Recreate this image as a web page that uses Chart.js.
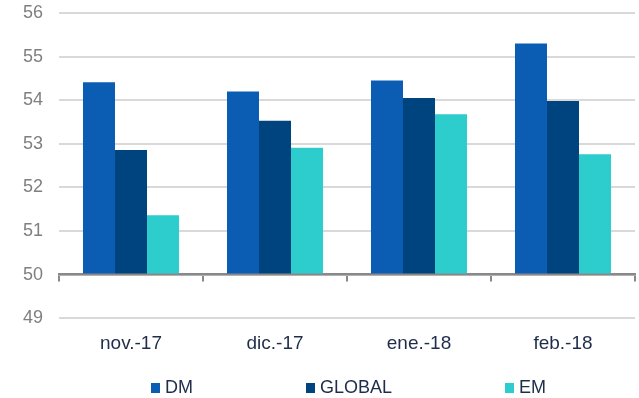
<!DOCTYPE html>
<html>
<head>
<meta charset="utf-8">
<script src="https://cdn.jsdelivr.net/npm/chart.js@4.4.1/dist/chart.umd.min.js"></script>
<style>
  html, body { margin: 0; padding: 0; background: #fff; }
  #wrap { position: relative; width: 639px; height: 398px; }
  #legend {
    position: absolute; left: 151px; top: 377px;
    display: flex; align-items: center;
    font: 18px "Liberation Sans", Arial, sans-serif; color: #1f2d4a;
  }
  #legend .item { display: flex; align-items: center; margin-right: 113px; }
  #legend .box { width: 9px; height: 10px; margin-right: 5px; }
</style>
</head>
<body>
<div id="wrap">
  <canvas id="pmiChart"></canvas>
  <div id="legend"></div>
</div>
<script>
const months = ['nov.-17', 'dic.-17', 'ene.-18', 'feb.-18'];
const dmValues = [54.41, 54.20, 54.45, 55.30];
const globalValues = [52.86, 53.53, 54.05, 53.98];
const emValues = [51.36, 52.91, 53.68, 52.76];
const yMin = 49;
const yMax = 56;
const baseLine = 50;

const fontFamily = '"Liberation Sans", Arial, sans-serif';

const chart = new Chart(document.getElementById('pmiChart'), {
	type: 'bar',
	data: {
		labels: months,
		datasets: [
			{ label: 'DM', data: dmValues, backgroundColor: '#0b5db4', base: baseLine },
			{ label: 'GLOBAL', data: globalValues, backgroundColor: '#00447f', base: baseLine },
			{ label: 'EM', data: emValues, backgroundColor: '#2ecdcd', base: baseLine }
		]
	},
	options: {
		responsive: true,
		maintainAspectRatio: false,
		animation: false,
		datasets: {
			bar: { categoryPercentage: 0.667, barPercentage: 1.0 }
		},
		layout: { padding: { top: 13, right: 4, left: 7, bottom: 29 } },
		plugins: {
			legend: { display: false },
			tooltip: { enabled: false }
		},
		scales: {
			x: {
				grid: { display: false, drawTicks: false },
				border: { display: false },
				ticks: {
					color: '#1f2d4a',
					padding: 14,
					font: { family: fontFamily, size: 19 }
				}
			},
			// axis line at 50 with tick marks between the months
			xBase: {
				type: 'category',
				position: { y: baseLine },
				z: 1,
				grid: { drawOnChartArea: false, offset: true, tickLength: 6, color: '#898989', lineWidth: 2 },
				border: { color: '#898989', width: 2.5 },
				ticks: { display: false }
			},
			y: {
				min: yMin,
				max: yMax,
				border: { display: false },
				grid: { color: '#d9d9d9', lineWidth: 2, drawTicks: false },
				ticks: {
					stepSize: 1,
					color: '#7f7f7f',
					padding: 16,
					font: { family: fontFamily, size: 18 }
				},
				// the tick padding is only wanted sideways, not above the top label
				afterFit: function (scale) {
					scale.paddingTop = 11;
					scale.paddingBottom = 11;
				}
			}
		}
	}
});

// legend drawn as html under the chart
const legendEl = document.getElementById('legend');
chart.data.datasets.forEach(function (ds) {
	const item = document.createElement('div');
	item.className = 'item';
	const box = document.createElement('span');
	box.className = 'box';
	box.style.background = ds.backgroundColor;
	item.appendChild(box);
	item.appendChild(document.createTextNode(ds.label));
	legendEl.appendChild(item);
});
</script>
</body>
</html>
